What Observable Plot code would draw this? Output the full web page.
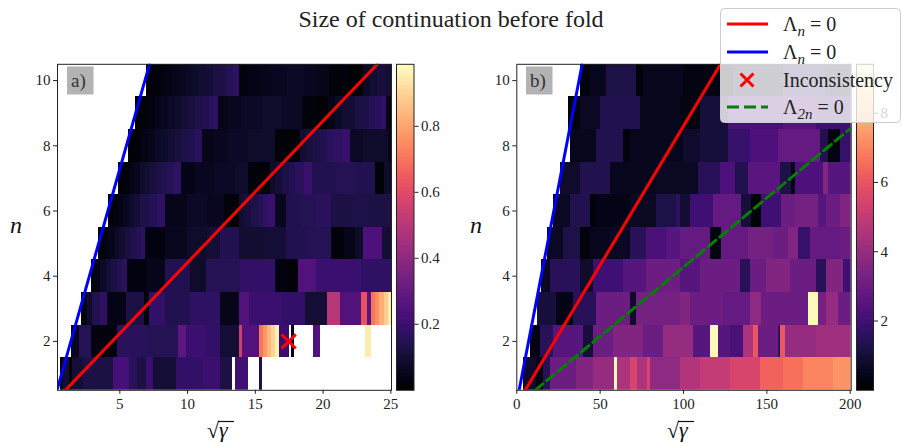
<!DOCTYPE html>
<html><head><meta charset="utf-8">
<script src="https://cdn.jsdelivr.net/npm/d3@7"></script>
<script src="https://cdn.jsdelivr.net/npm/@observablehq/plot@0.6"></script>
<style>
body{margin:0;background:#fff;}
#fig{position:relative;width:902px;height:443px;overflow:hidden;background:#fff;}
#fig svg{position:absolute;left:0;top:0;}
</style></head><body><div id="fig"></div>
<script>
// ---------- data: panel a) (sqrt(gamma) start, value); null = no value ----------
const aRow1 = [[0.62,0.03],[0.85,0.1],[1.3,0.01],[1.5,0.1],[2.3,0.12],[4.5,0.22],[5.7,0.16],[6.3,0.12],[7.0,0.2],[7.5,0.1],[9.2,0.18],[11.2,0.2],[12.44,0.12],[13.3,null],[13.55,0.21],[14.5,null],[15.3,0.13],[15.5,null]];
const aRow2 = [[1.41,0.06],[2.0,0.15],[2.9,0.03],[4.8,0.16],[7.0,0.15],[9.3,0.28],[9.9,0.2],[11.4,0.18],[12.44,0.1],[13.8,0.55],[14.03,0.25],[15.3,0.7],[15.6,0.77],[15.9,0.84],[16.2,0.9],[16.5,0.96],[16.8,0.2],[17.5,null],[17.7,0.04],[17.9,null],[19.3,0.25],[19.8,null],[23.1,0.95],[23.6,null]];
const aRow3 = [[2.17,0.03],[2.6,0.08],[3.0,0.14],[3.6,0.17],[4.1,0.04],[5.5,0.12],[6.8,0.02],[7.2,0.18],[8.4,0.14],[10.2,0.17],[12.44,0.05],[13.8,0.25],[14.6,0.2],[16.9,0.18],[18.7,0.1],[20.3,0.5],[21.3,0.25],[22.8,0.62],[23.3,0.27],[23.6,0.7],[23.9,0.76],[24.2,0.82],[24.5,0.88],[24.8,0.95]];
const aRow4 = [[2.89,0.02],[3.2,0.04],[3.6,0.07],[4.0,0.1],[4.4,0.12],[4.8,0.14],[5.2,0.16],[5.6,0.03],[7.0,0.05],[8.4,0.14],[10.2,0.08],[11.4,0.15],[13.9,0.18],[16.5,0.03],[17.4,0.02],[18.2,0.25],[19.5,0.2],[22.8,0.17]];
const aRow5 = [[3.45,0.01],[3.8,0.03],[4.2,0.05],[4.6,0.07],[5.0,0.09],[5.4,0.11],[5.8,0.13],[6.2,0.15],[6.6,0.17],[6.9,0.03],[8.4,0.06],[10.0,0.08],[11.5,0.1],[12.4,0.14],[13.8,0.09],[15.5,0.1],[17.3,0.14],[19.0,0.15],[20.6,0.02],[21.6,0.05],[22.4,0.08],[23.0,0.24],[24.4,0.1]];
const aRow6 = [[4.14,0.01],[4.5,0.02],[4.9,0.04],[5.3,0.06],[5.7,0.08],[6.1,0.1],[6.5,0.12],[6.9,0.13],[7.3,0.15],[7.8,0.17],[8.4,0.05],[10.0,0.07],[11.5,0.06],[12.7,0.02],[13.8,0.09],[14.2,0.11],[14.7,0.13],[15.2,0.15],[15.6,0.17],[16.0,0.19],[16.5,0.06],[17.3,0.14],[18.5,0.15],[19.5,0.16],[20.6,0.12],[22.0,0.13],[23.5,0.12]];
const aRow7 = [[4.88,0.01],[5.3,0.02],[5.7,0.04],[6.1,0.06],[6.5,0.08],[6.9,0.09],[7.3,0.11],[7.7,0.12],[8.1,0.14],[8.5,0.15],[9.0,0.17],[9.53,0.04],[10.5,0.06],[12.0,0.07],[13.5,0.08],[14.5,0.02],[15.3,0.01],[16.1,0.08],[16.5,0.1],[17.0,0.12],[17.5,0.14],[18.0,0.16],[18.6,0.19],[19.2,0.14],[21.0,0.15],[22.5,0.14],[23.9,0.02],[24.5,0.08]];
const aRow8 = [[5.62,0.01],[6.1,0.02],[6.6,0.04],[7.1,0.05],[7.6,0.07],[8.1,0.08],[8.6,0.1],[9.1,0.11],[9.6,0.13],[10.1,0.14],[10.6,0.16],[11.1,0.05],[12.0,0.06],[13.0,0.07],[14.5,0.08],[16.5,0.02],[17.4,0.01],[18.35,0.09],[18.8,0.11],[19.3,0.12],[19.8,0.14],[20.3,0.16],[20.8,0.17],[21.4,0.19],[22.0,0.07],[23.0,0.08],[24.8,0.05]];
const aRow9 = [[6.16,0.01],[6.6,0.02],[7.1,0.03],[7.6,0.05],[8.1,0.06],[8.6,0.07],[9.1,0.08],[9.6,0.1],[10.1,0.11],[10.6,0.12],[11.1,0.14],[11.6,0.16],[12.0,0.17],[12.3,0.05],[13.0,0.06],[14.0,0.07],[15.5,0.08],[17.0,0.07],[18.5,0.02],[19.5,0.01],[20.4,0.05],[20.9,0.07],[21.4,0.09],[21.9,0.1],[22.4,0.12],[22.9,0.13],[23.4,0.15],[23.9,0.16],[24.3,0.18],[24.7,0.04]];
const aRow10 = [[6.96,0.01],[7.4,0.02],[7.9,0.03],[8.4,0.04],[8.9,0.05],[9.4,0.06],[9.9,0.07],[10.4,0.08],[10.9,0.09],[11.4,0.1],[11.9,0.12],[12.4,0.13],[12.9,0.15],[13.4,0.17],[13.8,0.03],[14.4,0.04],[15.2,0.05],[16.2,0.06],[17.4,0.07],[18.6,0.06],[19.6,0.05],[20.5,0.02],[21.8,0.01],[23.0,0.07],[23.5,0.09],[24.0,0.11],[24.6,0.1]];

// ---------- data: panel b) ----------
const bRow1 = [[4.2,0.8],[12,0.3],[16,1.5],[20,3.0],[36,3.5],[46,4.0],[58.5,9.3],[60.5,4.5],[68.5,5.5],[72.5,4.5],[78.5,5.5],[80.5,3.8],[98,4.6],[110,5.0],[128,5.5],[146,6.3],[160,6.6],[172,7.0],[190,7.3]];
const bRow2 = [[8.2,0.3],[14,1.5],[22,2.5],[40,1.0],[46,3.0],[58,3.5],[76,3.0],[88,4.0],[106,2.5],[116,9.3],[120.8,2.5],[128,2.2],[136,4.5],[142,6.0],[145,3.0],[157,1.5],[158,6.0],[161,4.0],[180,4.2]];
const bRow3 = [[12.2,1.0],[24,0.4],[34,1.5],[48,3.0],[68,0.8],[72,3.2],[98,3.5],[104,3.0],[124,2.8],[140,3.8],[147,3.0],[175,9.3],[181,3.2],[186,4.0],[193,3.0]];
const bRow4 = [[15,0.6],[20,1.5],[38,0.8],[46,2.0],[64,2.5],[78,3.0],[98,2.5],[110,3.0],[134,1.5],[140,3.0],[150,3.5],[164,3.0],[180,1.5],[186,3.5],[196,2.0]];
const bRow5 = [[18.2,0.6],[28,1.2],[38,0.2],[44,0.5],[56,0.6],[68,1.5],[78,2.2],[90,2.5],[98,2.8],[116,0.3],[123,2.8],[139,3.2],[154,3.0],[163,3.5],[169,1.8],[176,2.8],[194,3.0]];
const bRow6 = [[22.2,0.6],[32,1.3],[44,0.2],[48,0.4],[68,0.6],[84,1.2],[96,1.6],[98,0.9],[104,2.0],[118,2.8],[135,1.0],[141,0.2],[147,2.0],[159,3.0],[167,3.2],[181,2.5],[186,3.0],[194,3.5]];
const bRow7 = [[26.2,0.8],[38,1.3],[56,0.5],[84,0.6],[98,0.6],[109,1.5],[122,2.3],[131,1.3],[139,2.6],[158,1.2],[165,0.3],[167,2.3],[184,3.5],[187,2.5]];
const bRow8 = [[32,0.5],[48,1.3],[64,0.2],[68,0.5],[100,0.8],[110,1.0],[127,1.8],[140,2.3],[157,2.8],[182,1.3],[187,0.3],[194,1.8]];
const bRow9 = [[31,0.2],[38,0.6],[50,1.3],[74,0.5],[98,0.3],[110,1.0],[127,2.2],[160,2.5],[180,2.0]];
const bRow10 = [[38.2,0.2],[44,0.5],[54,1.2],[72,0.2],[76,0.5],[100,0.3],[130,0.8],[160,1.5],[185,1.0]];

// ---------- lines / markers ----------
const blueA = [[0.36,0.5],[7.19,10.5]];
const redA = [[0.98,0.5],[24.0,10.5]];
const crossA = [[17.46,2]];
const blueB = [[1.4,0.5],[39.2,10.5]];
const redB = [[5.0,0.5],[122.2,10.5]];
const greenB = [[11,0.5],[200.6,8.55]];

// ---------- axes ----------
const xDomA = [0.4, 25.05], xDomB = [0, 200.6];
const yDom = [0.5, 10.5];
const xTicksA = [5,10,15,20,25], xTicksB = [0,50,100,150,200];
const yTicks = [2,4,6,8,10];
const cbTicksA = [0.2,0.4,0.6,0.8], cbTicksB = [2,4,6,8];
const cbMaxA = 0.988, cbMaxB = 9.41;

const FONT = "Liberation Serif, Times New Roman, serif";
const W = 902, H = 443, TOP = 63.8, BOTTOM = 53.2;

function cells(rows, xEnd) {
  const out = [];
  rows.forEach((row, k) => {
    const n = k + 1;
    row.forEach(([x, v], i) => {
      if (v == null) return;
      const x2 = i + 1 < row.length ? row[i + 1][0] : xEnd;
      out.push({x1: x, x2, y1: n - 0.5, y2: n + 0.5, v});
    });
  });
  return out;
}
const pts = a => a.map(([x, y]) => ({x, y}));
const axisText = {fontSize: 15, fontFamily: FONT, fill: "#222"};

function panel({rows, xDom, xTicks, max, left, right, lines, cross}) {
  const data = cells(rows, xDom[1]);
  const marks = [
    Plot.rect(data, {x1: "x1", x2: "x2", y1: "y1", y2: "y2", fill: "v", shapeRendering: "crispEdges", clip: true}),
    ...lines.map(l => Plot.line(pts(l.d), {x: "x", y: "y", stroke: l.c, strokeWidth: l.w, strokeDasharray: l.dash, clip: true})),
  ];
  if (cross) marks.push(Plot.dot(pts(cross), {x: "x", y: "y", symbol: "times", r: 6.5, stroke: "#ff0000", strokeWidth: 3}));
  marks.push(
    Plot.axisX({ticks: xTicks, tickSize: 4, tickPadding: 4, label: null, ...axisText}),
    Plot.axisY({ticks: yTicks, tickSize: 4, tickPadding: 3, label: null, ...axisText}),
    Plot.frame({stroke: "#222", strokeWidth: 1})
  );
  return Plot.plot({
    width: W, height: H,
    marginLeft: left, marginRight: W - right, marginTop: TOP, marginBottom: BOTTOM,
    style: {background: "transparent", fontFamily: FONT, color: "#222", overflow: "visible"},
    x: {domain: xDom},
    y: {domain: yDom},
    color: {type: "linear", scheme: "magma", domain: [0, max]},
    marks
  });
}

function colorbar({max, ticks, left, right, fmt}) {
  const N = 330;
  const stops = d3.range(N).map(i => ({y1: i / N * max, y2: (i + 1) / N * max, v: (i + 0.5) / N * max}));
  return Plot.plot({
    width: W, height: H,
    marginLeft: left, marginRight: W - right, marginTop: TOP, marginBottom: BOTTOM,
    style: {background: "transparent", fontFamily: FONT, color: "#222", overflow: "visible"},
    y: {domain: [0, max]},
    color: {type: "linear", scheme: "magma", domain: [0, max]},
    marks: [
      Plot.rect(stops, {y1: "y1", y2: "y2", fill: "v", shapeRendering: "crispEdges"}),
      Plot.axisY({anchor: "right", ticks, tickSize: 4, tickPadding: 3, label: null, tickFormat: fmt, ...axisText}),
      Plot.frame({stroke: "#222", strokeWidth: 1})
    ]
  });
}

const fig = document.getElementById("fig");
fig.append(panel({
  rows: [aRow1,aRow2,aRow3,aRow4,aRow5,aRow6,aRow7,aRow8,aRow9,aRow10],
  xDom: xDomA, xTicks: xTicksA, max: cbMaxA, left: 57, right: 391,
  lines: [{d: blueA, c: "#0000ff", w: 3}, {d: redA, c: "#ff0000", w: 3}],
  cross: crossA
}));
fig.append(colorbar({max: cbMaxA, ticks: cbTicksA, left: 396, right: 413.5, fmt: d => d.toFixed(1)}));
fig.append(panel({
  rows: [bRow1,bRow2,bRow3,bRow4,bRow5,bRow6,bRow7,bRow8,bRow9,bRow10],
  xDom: xDomB, xTicks: xTicksB, max: cbMaxB, left: 516.3, right: 850.7,
  lines: [{d: blueB, c: "#0000ff", w: 3}, {d: redB, c: "#ff0000", w: 3}, {d: greenB, c: "#008000", w: 3, dash: "10,5"}]
}));
fig.append(colorbar({max: cbMaxB, ticks: cbTicksB, left: 856, right: 873, fmt: d => d}));

// ---------- overlay: title, labels, legend ----------
const svg = d3.select(fig).append("svg").attr("width", W).attr("height", H)
  .style("font-family", FONT).style("overflow", "visible");
svg.append("text").attr("x", 451).attr("y", 27).attr("text-anchor", "middle")
  .attr("font-size", 24).attr("fill", "#222").text("Size of continuation before fold");

for (const cx of [16, 476]) {
  svg.append("text").attr("x", cx).attr("y", 233).attr("text-anchor", "middle")
    .attr("font-size", 24).attr("font-style", "italic").attr("fill", "#111").text("n");
}
for (const cx of [224, 684]) {
  const g = svg.append("g").attr("transform", `translate(${cx},0)`);
  g.append("text").attr("x", -5).attr("y", 438).attr("text-anchor", "end").attr("font-size", 22).attr("fill", "#111").text("√");
  g.append("text").attr("x", -5).attr("y", 437).attr("font-size", 22).attr("font-style", "italic").attr("fill", "#111").text("γ");
  g.append("line").attr("x1", -6).attr("x2", 10).attr("y1", 421.5).attr("y2", 421.5).attr("stroke", "#111").attr("stroke-width", 1.2);
}
for (const [bx, lab] of [[67, "a)"], [526, "b)"]]) {
  svg.append("rect").attr("x", bx).attr("y", 66.5).attr("width", 26.5).attr("height", 28).attr("fill", "#b3b3b3");
  svg.append("text").attr("x", bx + 4).attr("y", 87).attr("font-size", 19).attr("fill", "#333").text(lab);
}

// legend
const lg = svg.append("g");
lg.append("rect").attr("x", 720.5).attr("y", 8.5).attr("width", 180).attr("height", 114).attr("rx", 4)
  .attr("fill", "#fff").attr("fill-opacity", 0.8).attr("stroke", "#cccccc");
const legendItems = [
  {kind: "line", c: "#ff0000", y: 24, sub: "n"},
  {kind: "line", c: "#0000ff", y: 52, sub: "n"},
  {kind: "x", c: "#ff0000", y: 80, label: "Inconsistency"},
  {kind: "dash", c: "#008000", y: 107, sub: "2n"}
];
for (const it of legendItems) {
  if (it.kind === "x") {
    lg.append("path").attr("d", `M${747-6.5},${it.y-6.5}L${747+6.5},${it.y+6.5}M${747-6.5},${it.y+6.5}L${747+6.5},${it.y-6.5}`)
      .attr("stroke", it.c).attr("stroke-width", 3);
  } else {
    lg.append("line").attr("x1", 727).attr("x2", 768).attr("y1", it.y).attr("y2", it.y)
      .attr("stroke", it.c).attr("stroke-width", 3).attr("stroke-dasharray", it.kind === "dash" ? "12,5" : null);
  }
  const t = lg.append("text").attr("x", 783).attr("y", it.y + 7).attr("font-size", 20).attr("fill", "#222");
  if (it.label) t.text(it.label);
  else {
    t.append("tspan").text("Λ");
    t.append("tspan").attr("font-size", 15).attr("font-style", "italic").attr("dy", 5).text(it.sub);
    t.append("tspan").attr("dy", -5).text(" = 0");
  }
}
</script></body></html>
